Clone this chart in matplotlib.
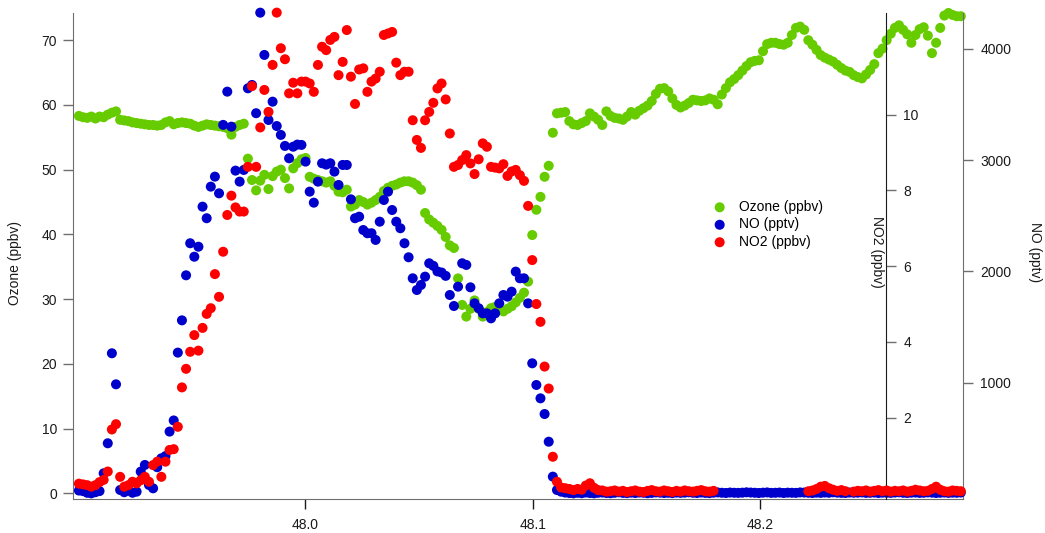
import numpy as np
import matplotlib
matplotlib.use('Agg')
import matplotlib.pyplot as plt

nan = np.nan

# regular sampling grid (time axis)
T0 = 47.9007
DT = 0.00181

# Ozone (ppbv), one value per sample
ozone = [
    58.3, 58.1, 58.0, 58.2, 57.9, 58.2, 58.1, 58.5, 58.8, 59.0,
    57.7, 57.6, 57.5, 57.3, 57.2, 57.1, 57.0, 56.9, 56.9, 56.8,
    56.9, 57.3, 57.5, 57.0, 57.2, 57.3, 57.2, 57.1, 56.8, 56.6,
    56.8, 57.0, 56.9, 56.8, 56.7, 56.6, 56.4, 55.4, 56.6, 56.9,
    57.1, 51.7, 48.4, 46.8, 48.3, 49.2, 47.0, 49.0, 49.7, 50.0,
    48.7, 47.1, 50.2, 51.0, 51.6, 51.8, 48.9, 48.6, 48.4, 48.2,
    48.0, 48.2, 47.5, 46.6, 46.5, 46.9, 44.3, 44.6, 45.3, 45.0,
    44.6, 44.9, 45.3, 45.8, 46.7, 47.2, 47.5, 47.7, 48.0, 48.2,
    48.2, 48.0, 47.6, 46.9, 43.3, 42.3, 41.8, 41.3, 40.7, 39.6,
    38.3, 37.9, 33.2, 29.1, 27.3, 28.5, 29.8, 28.5, 27.3, 28.0,
    28.6, 28.8, 28.4, 28.1, 28.5, 28.9, 29.5, 30.2, 31.0, 32.7,
    39.9, 43.8, 45.8, 48.9, 50.6, 55.7, 58.7, 58.8, 58.9, 57.5,
    57.0, 56.9, 57.2, 57.5, 58.7, 58.2, 57.7, 56.9, 59.0, 58.3,
    58.0, 57.9, 57.7, 58.2, 58.9, 58.5, 59.1, 59.5, 59.9, 60.6,
    61.7, 62.5, 62.6, 62.1, 61.0, 60.0, 59.6, 59.9, 60.3, 60.8,
    60.7, 60.6, 60.7, 61.0, 60.8, 60.1, 61.6, 62.6, 63.5, 64.0,
    64.6, 65.3, 66.0, 66.6, 66.8, 66.9, 68.3, 69.4, 69.6, 69.6,
    69.4, 69.3, 69.6, 70.8, 71.9, 72.1, 71.6, 70.0, 69.3, 68.5,
    67.7, 67.3, 67.0, 66.7, 66.2, 65.7, 65.3, 65.1, 64.6, 64.3,
    64.1, 64.7, 65.4, 66.3, 68.0, 68.7, 70.0, 71.0, 71.9, 72.3,
    71.6, 70.9, 69.6, 70.8, 71.7, 72.0, 70.7, 68.0, 69.6, 71.9,
    73.8, 74.2, 73.9, 73.7, 73.7,
]

# NO (pptv)
no_pptv = [
    30, 25, 10, 5, 15, 25, 185, 455, 1264, 985,
    35, 15, 30, 10, 20, 200, 260, 80, 50, 240,
    320, 340, 560, 660, 1270, 1560, 1965, 2253, 2132, 2222,
    2582, 2478, 2762, 2852, 2702, 3317, 3616, 3301, 2906, 2807,
    2912, 3646, 3676, 3422, 4326, 3946, 3361, 3526, 3307, 3227,
    3128, 3017, 3121, 3140, 3137, 2987, 2717, 2618, 2807, 2972,
    2960, 2972, 2897, 2777, 2957, 2957, 2648, 2478, 2492, 2372,
    2343, 2343, 2283, 2447, 2642, 2717, 2552, 2447, 2388, 2253,
    2127, 1938, 1833, 1878, 1953, 2073, 2050, 2000, 1990, 1960,
    1788, 1689, 1863, 2073, 2058, 1857, 1713, 1669, 1623, 1623,
    1578, 1623, 1713, 1788, 1773, 1818, 1998, 1938, 1938, 1713,
    1174, 979, 859, 718, 469, 155, 35,
    20, 12, 8, 5, 10, 6, 12, 8, 5, 10,
    12, 8, 6, 10, 14, 9, 7, 11, 8, 12,
    10, 6, 9, 13, 11, 8, 10, 7, 12, 9,
    11, 14, 10, 8, 12, 9, 7, 11, 13, 10,
    8, 12, 10, 9, 11, 14, 12, 10, 8, 11,
    13, 9, 10, 12, 8, 11, 10, 9, 13, 12,
    10, 8, 11, 9, 12, 10, 14, 11, 9, 8,
    12, 10, 11, 13, 9, 10, 12, 8, 11, 10,
    9, 12, 14, 10, 8, 11, 12, 9, 10, 13,
    11, 8, 10, 12, 9, 11, 10, 12,
]

# NO2 (ppbv)
no2_ppbv = [
    0.26, 0.24, 0.22, 0.18, 0.22, 0.30, 0.36, 0.58, 1.69, 1.83,
    0.44, 0.18, 0.22, 0.31, 0.27, 0.35, 0.44, 0.31, 0.75, 0.84,
    0.44, 0.84, 1.15, 1.17, 1.76, 2.80, 3.29, 3.74, 4.18, 3.77,
    4.37, 4.74, 4.89, 5.79, 5.19, 6.38, 7.35, 7.86, 7.55, 7.44,
    7.44, 8.62, 10.75, 8.62, 9.66, 10.65, 10.07, 11.31, 12.69, 11.75,
    11.46, 10.56, 10.84, 10.56, 10.87, 10.87, 10.82, 10.60, 11.31, 11.79,
    11.70, 11.97, 12.05, 11.04, 11.39, 12.23, 11.00, 10.28, 11.19, 11.22,
    10.60, 10.87, 10.95, 11.13, 12.10, 12.14, 12.18, 11.37, 11.04, 11.13,
    11.13, 9.85, 9.33, 9.12, 9.85, 10.07, 10.31, 10.69, 10.82, 10.40,
    9.50, 8.62, 8.67, 8.80, 8.93, 8.71, 8.43, 8.82, 9.24, 9.15,
    8.62, 8.60, 8.58, 8.69, 8.38, 8.50, 8.54, 8.40, 8.25, 7.59,
    6.16, 5.00, 4.53, 3.35, 2.77, 0.97, 0.31, 0.16,
    0.14, 0.12, 0.09, 0.12, 0.10, 0.21, 0.27, 0.15, 0.09, 0.08,
    0.05, 0.06, 0.08, 0.05, 0.07, 0.04, 0.06, 0.08, 0.05, 0.04,
    0.07, 0.09, 0.06, 0.05, 0.08, 0.06, 0.04, 0.07, 0.05, 0.08,
    0.06, 0.05, 0.07, 0.09, 0.06, 0.05, 0.07,
    nan, nan, nan, nan, nan, nan, nan, nan, nan, nan,
    nan, nan, nan, nan, nan, nan, nan, nan, nan, nan,
    nan, nan,
    0.06, 0.08, 0.12, 0.18, 0.20, 0.14, 0.10, 0.07, 0.09, 0.06,
    nan,
    0.05, 0.07, 0.06, 0.08, 0.05, 0.07, 0.09, 0.06, 0.08, 0.05,
    0.07, 0.06, 0.08, 0.05, 0.07, 0.10, 0.08, 0.06, 0.07, 0.12,
    0.18, 0.10, 0.06, 0.05, 0.08, 0.07, 0.06,
]

x_ticks   = [48.0, 48.1, 48.2]
o3_ticks  = [0, 10, 20, 30, 40, 50, 60, 70]
no2_ticks = [2, 4, 6, 8, 10]
no_ticks  = [1000, 2000, 3000, 4000]

GREEN, BLUE, RED = '#66cc00', '#0000cc', '#ff0000'
GREY, INK = '#6e6e6e', '#1a1a1a'

assert len(ozone) == len(no_pptv) == len(no2_ppbv), (len(ozone), len(no_pptv), len(no2_ppbv))
t = T0 + DT * np.arange(len(ozone))

plt.rcParams['font.family'] = ['Liberation Sans', 'DejaVu Sans']
plt.rcParams['font.size'] = 10

W, H = 1045, 533
fig = plt.figure(figsize=(W / 100, H / 100), dpi=100)
ax = fig.add_axes([73 / W, 34 / H, 890 / W, 486 / H])
ax_no = ax.twinx()
ax_no2 = ax.twinx()   # drawn last, so NO2 sits on top

ms = 52
s_o3 = ax.scatter(t, ozone, s=ms, color=GREEN, edgecolors='none', clip_on=False, zorder=3)
s_no = ax_no.scatter(t, no_pptv, s=ms, color=BLUE, edgecolors='none', clip_on=False, zorder=3)
s_no2 = ax_no2.scatter(t, no2_ppbv, s=ms, color=RED, edgecolors='none', clip_on=False, zorder=3)

ax.set_xlim(47.8981, 48.2890)
ax.set_ylim(-0.88, 74.2)
ax_no.set_ylim(-46, 4323)
ax_no2.set_ylim(-0.145, 12.68)

ax.set_xticks(x_ticks)
ax.set_xticklabels([f'{v:.1f}' for v in x_ticks])
ax.set_yticks(o3_ticks)
ax_no.set_yticks(no_ticks)
ax_no2.set_yticks(no2_ticks)

for a in (ax, ax_no, ax_no2):
    for sp in a.spines.values():
        sp.set_visible(False)
ax.spines['left'].set_visible(True)
ax.spines['bottom'].set_visible(True)
ax.spines['left'].set_color(GREY)
ax.spines['bottom'].set_color(GREY)
ax_no.spines['right'].set_visible(True)
ax_no.spines['right'].set_color(GREY)
ax_no2.spines['right'].set_visible(True)
ax_no2.spines['right'].set_color(INK)
ax_no2.spines['right'].set_position(('axes', (886 - 73) / 890))

ax.tick_params(axis='y', direction='out', length=7.5, width=1, color=GREY,
               labelcolor=INK, pad=4)
ax.tick_params(axis='x', direction='out', length=7.5, width=1, color=INK,
               labelcolor=INK, pad=6)
for a in (ax_no, ax_no2):
    a.tick_params(axis='y', direction='out', length=7.5, width=1, color=GREY,
                  labelcolor=INK, pad=5)

fig.text(15 / W, 1 - 263 / H, 'Ozone (ppbv)', rotation=90, ha='center', va='center', color=INK)
fig.text(877 / W, 1 - 252 / H, 'NO2 (ppbv)', rotation=270, ha='center', va='center', color=INK)
fig.text(1035 / W, 1 - 252 / H, 'NO (pptv)', rotation=270, ha='center', va='center', color=INK)

fig.legend([s_o3, s_no, s_no2], ['Ozone (ppbv)', 'NO (pptv)', 'NO2 (ppbv)'],
           loc='upper left', bbox_to_anchor=(703 / W, 1 - 193 / H),
           frameon=False, borderpad=0, handlelength=1.4, handletextpad=0.7,
           labelspacing=0.25, scatterpoints=1)

fig.savefig('out.png', dpi=100)
